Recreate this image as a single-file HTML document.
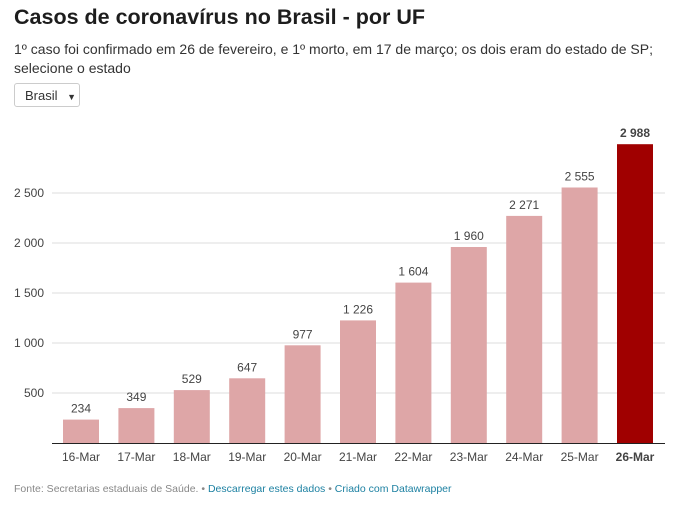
<!DOCTYPE html>
<html><head><meta charset="utf-8"><style>
body{margin:0;width:677px;height:513px;background:#fff;font-family:"Liberation Sans",sans-serif;overflow:hidden;position:relative}
.t{position:absolute;left:14px;top:5px;font-size:21.5px;font-weight:bold;color:#1d1d1d}
.s{position:absolute;left:14px;top:40px;font-size:14px;line-height:19px;color:#333;width:665px}
.sel{position:absolute;left:14px;top:83px;width:66px;height:24px;border:1px solid #ccc;border-radius:3px;font-size:13px;color:#333;box-sizing:border-box;padding:4px 0 0 10px;white-space:nowrap}
.f{position:absolute;left:14px;top:483px;font-size:10.5px;color:#888}
.f a{color:#1d81a2;text-decoration:none}
</style></head><body>
<div class="t">Casos de coronavírus no Brasil - por UF</div>
<div class="s">1º caso foi confirmado em 26 de fevereiro, e 1º morto, em 17 de março; os dois eram do estado de SP;<br>selecione o estado</div>
<div class="sel">Brasil <span style="font-size:9px;margin-left:6px">▼</span></div>
<svg id="c" width="677" height="513" style="position:absolute;left:0;top:0"></svg>
<div class="f">Fonte: Secretarias estaduais de Saúde. • <a>Descarregar estes dados</a> • <a>Criado com Datawrapper</a></div>
<script>
const categories=["16-Mar","17-Mar","18-Mar","19-Mar","20-Mar","21-Mar","22-Mar","23-Mar","24-Mar","25-Mar","26-Mar"];
const values=[234,349,529,647,977,1226,1604,1960,2271,2555,2988];
const ticks=[500,1000,1500,2000,2500];
const svg=document.getElementById('c');
const NS='http://www.w3.org/2000/svg';
const y0=443,k=0.1,x0=63,step=55.4,bw=36;
const y=v=>y0-v*k;
const x=i=>x0+i*step;
const fmt=v=>String(v).replace(/\B(?=(\d{3})+(?!\d))/g,' ');
function mk(tag,a,txt){const e=document.createElementNS(NS,tag);for(const q in a)e.setAttribute(q,a[q]);if(txt!=null)e.textContent=txt;svg.appendChild(e);return e;}
ticks.forEach(t=>{
 const l=mk('line',{x1:52,x2:665,y1:y(t),y2:y(t),stroke:'#ddd','stroke-width':1});
 
 
 const tx=mk('text',{x:44,y:y(t)+4,'text-anchor':'end','font-size':12,fill:'#444','font-family':'Liberation Sans'},fmt(t));
 
 
});
values.forEach((v,i)=>{
 const last=i===values.length-1;
 const r=mk('rect',{x:x(i),y:y(v),width:bw,height:v*k,fill:last?'#a00000':'#dea6a7'});
 
 
 const tv=mk('text',{x:x(i)+bw/2,y:y(v)-7,'text-anchor':'middle','font-size':12,fill:'#444','font-weight':last?'bold':'normal','font-family':'Liberation Sans'},fmt(v));
 
 
 const tc=mk('text',{x:x(i)+bw/2,y:y0+18,'text-anchor':'middle','font-size':12,fill:'#444','font-weight':last?'bold':'normal','font-family':'Liberation Sans'},categories[i]);
 
 
});
const b=mk('line',{x1:52,x2:665,y1:y0+0.5,y2:y0+0.5,stroke:'#222','stroke-width':1});


</script>
</body></html>
